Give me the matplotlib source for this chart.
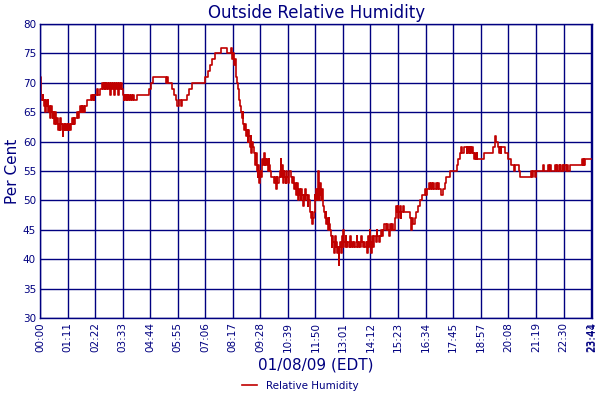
import numpy as np
import matplotlib
matplotlib.use("Agg")
import matplotlib.pyplot as plt

# readings: minutes after midnight, relative humidity (%)
minutes = [
    0, 1, 3, 6, 8, 10, 12, 13, 15, 17, 19, 20, 22, 24,
    26, 28, 30, 32, 34, 36, 38, 40, 42,
    44, 46, 48, 50, 52, 54, 56, 58, 59,
    61, 63, 65, 67, 69, 71, 73, 75, 77, 79,
    82, 84, 86, 88, 90, 93, 96, 98, 100,
    103, 105, 107, 109, 111, 113, 115, 118, 121, 124,
    128, 132, 134, 136, 138, 140, 143, 146, 150, 153,
    156, 160, 162, 164, 166, 168, 170, 172, 175, 177, 180, 182, 185, 188, 190, 192,
    195, 198, 200, 202, 205, 208, 211,
    213, 215, 217, 219, 221, 223, 225, 227, 229, 231, 233, 236, 239, 242, 245, 250,
    255, 262, 268,
    273, 280, 286, 290, 300, 310, 320, 324, 327, 329, 335,
    341, 346, 350, 354, 358, 362, 366, 371, 378, 385, 392, 400, 410, 420,
    426, 432, 438, 444, 450, 456, 462, 466, 472, 480, 482, 490, 492,
    494, 496, 498, 500, 502, 504,
    506, 508, 510, 512, 514, 516, 518, 520, 522, 524, 527, 529, 531, 533, 535, 537,
    539, 541, 543, 545, 547, 549, 551, 553, 555, 557, 559, 561, 563, 565, 567, 569,
    571, 573, 575, 577, 579, 581, 583, 585, 587, 589, 591, 594, 596, 600, 604, 606,
    608, 610, 612, 615, 618, 620, 622, 624, 626, 628, 630, 633, 635, 637, 640, 643,
    646, 649, 652, 655, 657, 660, 662, 664, 666, 668, 670, 672, 674, 676, 678, 680,
    682, 684, 686, 688, 690, 692, 694, 696, 698, 700, 702, 704, 706, 708, 710, 712,
    714, 716, 718, 720, 722, 724, 726, 728, 730, 732, 734, 736, 738, 740, 742, 744,
    746, 748, 750, 752, 754, 756, 758, 760, 762, 764, 766, 768, 770, 772, 774, 776,
    778, 780, 782, 784, 786, 788, 790, 792, 795, 798, 800, 802, 805, 808, 810, 813,
    816, 818, 820, 823, 826, 828, 830, 833, 836, 839, 842, 844, 846, 848, 850, 852,
    854, 856, 858, 860, 862, 865, 868, 870, 873, 876, 879, 882, 885, 888, 891, 894,
    897, 900, 902, 905, 908, 911, 914, 916, 918, 920, 922, 924, 926, 928, 930, 932,
    935, 938, 945, 950, 954, 956, 958, 960, 963, 966, 970, 975, 980, 986, 990, 993,
    996, 999, 1002, 1005, 1008, 1011, 1014, 1017, 1020, 1023, 1026, 1030, 1034, 1038,
    1043, 1048, 1052, 1056, 1066, 1074, 1079, 1084, 1086, 1089, 1092, 1096, 1100,
    1102, 1104, 1106, 1108, 1110, 1112, 1114, 1117, 1120, 1122, 1124, 1126, 1128,
    1133, 1140, 1146, 1155, 1163, 1168, 1172, 1174, 1176, 1181, 1184, 1186, 1188,
    1190, 1194, 1198, 1202, 1206, 1210, 1214, 1218, 1222, 1226, 1230, 1234, 1238,
    1245, 1255, 1262, 1266, 1268, 1272, 1276, 1280, 1284, 1290, 1296, 1300, 1304,
    1310, 1312, 1316, 1318, 1322, 1328, 1330, 1334, 1336, 1340, 1342, 1346, 1348,
    1352, 1356, 1360, 1362, 1366, 1370, 1380, 1390, 1398, 1400, 1402, 1404, 1406,
    1410, 1424,
]
humidity = [
    71, 68, 67, 68, 67, 66, 67, 65, 67, 66, 67, 65, 66, 65,
    64, 66, 65, 64, 65, 63, 65, 64, 63,
    64, 62, 63, 62, 64, 63, 62, 61, 63,
    62, 63, 62, 63, 62, 63, 62, 63, 62, 63,
    64, 63, 64, 63, 64, 64, 65, 64, 65,
    66, 65, 66, 65, 66, 65, 66, 66, 67, 67,
    67, 68, 67, 68, 67, 68, 68, 69, 68, 69,
    69, 70, 69, 70, 69, 70, 69, 70, 69, 70, 68, 70, 69, 70, 68, 70,
    69, 70, 68, 70, 69, 70, 69,
    68, 67, 68, 67, 68, 67, 68, 67, 68, 67, 68, 67, 68, 67, 67, 68,
    68, 68, 68,
    68, 69, 70, 71, 71, 71, 71, 70, 71, 70, 70,
    69, 68, 67, 66, 67, 66, 67, 67, 68, 69, 70, 70, 70, 70,
    71, 72, 73, 74, 75, 75, 75, 76, 76, 76, 75, 75, 76,
    75, 74, 75, 73, 74, 72,
    71, 70, 69, 68, 67, 66, 65, 64, 65, 63, 62, 63, 61, 62, 60, 62,
    61, 59, 61, 58, 60, 59, 58, 57, 56, 58, 55, 54, 56, 53, 55, 54,
    56, 57, 56, 58, 56, 57, 56, 57, 55, 57, 56, 55, 54, 54, 53, 54,
    52, 54, 53, 54, 55, 57, 54, 56, 53, 55, 54, 53, 55, 54, 53, 55,
    54, 53, 54, 52, 53, 51, 53, 52, 50, 52, 51, 50, 52, 51, 49, 51,
    50, 52, 51, 50, 49, 51, 50, 48, 47, 48, 46, 47, 48, 51, 50, 52,
    50, 55, 51, 50, 53, 51, 50, 52, 49, 48, 47, 48, 46, 47, 45, 47,
    46, 45, 44, 42, 44, 43, 41, 44, 42, 43, 41, 42, 39, 42, 43, 41,
    44, 42, 45, 43, 42, 44, 43, 42, 43, 42, 44, 42, 43, 42, 43, 42,
    44, 43, 42, 43, 42, 44, 43, 42, 43, 42, 43, 41, 44, 42, 45, 43,
    41, 44, 42, 43, 44, 43, 45, 44, 43, 44, 45, 44, 45, 46, 45, 46,
    45, 44, 46, 45, 46, 45, 46, 47, 49, 48, 49, 47, 48, 49, 47, 48,
    49, 48, 48, 48, 47, 45, 46, 47, 46, 47, 48, 49, 50, 51, 51, 52,
    51, 52, 53, 52, 53, 52, 53, 52, 53, 52, 53, 52, 51, 52,
    53, 54, 54, 55, 55, 56, 57, 58, 59, 58, 59, 59, 58,
    59, 58, 59, 58, 59, 58, 59, 58, 57, 58, 57, 58, 57,
    57, 57, 58, 58, 58, 59, 60, 61, 60, 59, 58, 59, 58,
    59, 59, 58, 58, 57, 57, 56, 56, 55, 56, 56, 55, 54,
    54, 54, 54, 55, 54, 55, 54, 55, 55, 55, 56, 55, 55,
    56, 55, 56, 55, 55, 56, 55, 56, 55, 56, 55, 56, 55,
    56, 55, 56, 55, 56, 56, 56, 56, 57, 56, 57, 56, 57,
    57, 57,
]

tick_labels = ["00:00", "01:11", "02:22", "03:33", "04:44", "05:55", "07:06",
               "08:17", "09:28", "10:39", "11:50", "13:01", "14:12", "15:23",
               "16:34", "17:45", "18:57", "20:08", "21:19", "22:30", "23:41",
               "23:44"]
tick_pos = [int(s[:2]) * 60 + int(s[3:]) for s in tick_labels]

navy = "#000080"

fig = plt.figure(figsize=(6, 4), dpi=100)
ax = fig.add_axes([0.067, 0.205, 0.92, 0.735])

ax.plot(minutes, humidity, drawstyle="steps-post", color="#C00000",
        linewidth=1.2, label="Relative Humidity")

ax.set_xlim(0, tick_pos[-1])
ax.set_ylim(30, 80)
ax.set_yticks(np.arange(30, 81, 5))
ax.set_xticks(tick_pos)
ax.set_xticklabels(tick_labels, rotation=90)
ax.tick_params(colors=navy, labelcolor=navy, labelsize=7.5, length=0, pad=3)
ax.grid(True, color=navy, linewidth=1)
for sp in ax.spines.values():
    sp.set_color(navy)
    sp.set_linewidth(1)

ax.set_title("Outside Relative Humidity", color=navy, fontsize=12, pad=4)
ax.set_ylabel("Per Cent", color=navy, fontsize=11, labelpad=2)
ax.set_xlabel("01/08/09 (EDT)", color=navy, fontsize=11, labelpad=4)

leg = fig.legend(loc="lower center", bbox_to_anchor=(0.5, 0.0), frameon=False,
                 fontsize=7.5, handlelength=1.5, labelcolor=navy)

fig.savefig("out.png", dpi=100)
